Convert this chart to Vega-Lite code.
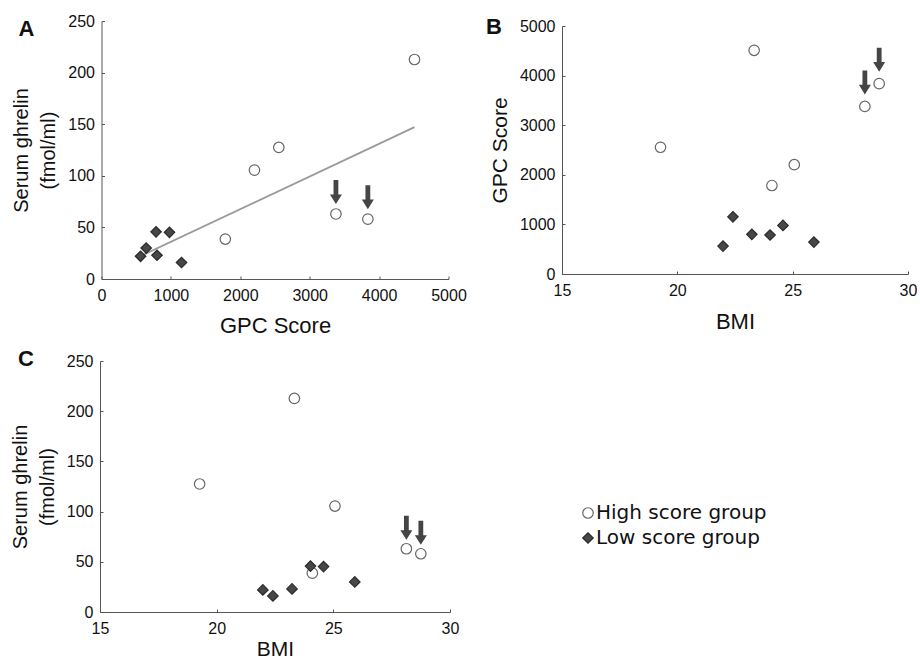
{
  "$schema": "https://vega.github.io/schema/vega-lite/v6.json",
  "autosize": {"type": "pad"},
  "padding": {"left": 10, "top": 13, "right": 0, "bottom": 0},
  "background": "white",
  "datasets": {
    "subjects": [
      {"group": "High score group", "gpc": 1784, "ghrelin": 38.7, "bmi": 24.1, "arrow": false},
      {"group": "High score group", "gpc": 2204, "ghrelin": 105.5, "bmi": 25.07, "arrow": false},
      {"group": "High score group", "gpc": 2555, "ghrelin": 127.5, "bmi": 19.27, "arrow": false},
      {"group": "High score group", "gpc": 3378, "ghrelin": 63, "bmi": 28.13, "arrow": true},
      {"group": "High score group", "gpc": 3838, "ghrelin": 58, "bmi": 28.75, "arrow": true},
      {"group": "High score group", "gpc": 4510, "ghrelin": 212.7, "bmi": 23.33, "arrow": false},
      {"group": "Low score group", "gpc": 563, "ghrelin": 22, "bmi": 21.98, "arrow": false},
      {"group": "Low score group", "gpc": 1153, "ghrelin": 16, "bmi": 22.41, "arrow": false},
      {"group": "Low score group", "gpc": 800, "ghrelin": 23, "bmi": 23.23, "arrow": false},
      {"group": "Low score group", "gpc": 786, "ghrelin": 45.7, "bmi": 24.02, "arrow": false},
      {"group": "Low score group", "gpc": 979, "ghrelin": 45.2, "bmi": 24.58, "arrow": false},
      {"group": "Low score group", "gpc": 644, "ghrelin": 30, "bmi": 25.92, "arrow": false}
    ]
  },
  "data": {"name": "subjects"},
  "columns": 2,
  "bounds": "flush",
  "center": true,
  "spacing": {"row": 82, "column": 112},
  "resolve": {
    "scale": {"shape": "shared", "fill": "shared", "stroke": "shared"},
    "legend": {"shape": "shared", "fill": "shared", "stroke": "shared"}
  },
  "config": {
    "font": "Liberation Sans",
    "view": {"stroke": null},
    "axis": {
      "grid": false,
      "domainColor": "#555",
      "domainWidth": 1,
      "tickColor": "#555",
      "tickSize": -3,
      "labelFont": "Liberation Sans",
      "labelFontSize": 16,
      "labelColor": "#111",
      "labelFlush": false,
      "labelOverlap": false,
      "format": "d",
      "titleFont": "Liberation Sans",
      "titleFontWeight": "normal",
      "titleColor": "#111"
    },
    "axisX": {"labelPadding": 11, "titleFontSize": 22, "titlePadding": 12},
    "axisY": {"labelPadding": 10, "titleFontSize": 20, "titleLineHeight": 27, "titlePadding": 9},
    "legend": {
      "orient": "none",
      "legendX": 478,
      "legendY": 482,
      "title": null,
      "labelFont": "DejaVu Sans",
      "labelFontSize": 20,
      "labelColor": "#111",
      "labelLimit": 0,
      "labelOffset": -2,
      "symbolSize": 110,
      "symbolStrokeWidth": 1.2,
      "rowPadding": 5
    }
  },
  "concat": [
    {
      "width": 347,
      "height": 258,
      "title": {"text": "A", "anchor": "start", "frame": "group", "dx": -83, "dy": 45, "offset": 0, "baseline": "alphabetic", "fontSize": 22, "fontWeight": "bold", "color": "#111"},
      "layer": [
        {
          "transform": [{"regression": "ghrelin", "on": "gpc"}],
          "mark": {"type": "line", "color": "#9a9a9a", "strokeWidth": 1.8},
          "encoding": {
            "x": {"field": "gpc", "type": "quantitative", "scale": {"domain": [0, 5000], "nice": false}, "axis": {"values": [0, 1000, 2000, 3000, 4000, 5000], "title": "GPC Score"}},
            "y": {"field": "ghrelin", "type": "quantitative", "scale": {"domain": [0, 250], "nice": false}, "axis": {"values": [0, 50, 100, 150, 200, 250], "title": ["Serum ghrelin", "(fmol/ml)"]}}
          }
        },
        {
          "mark": {"type": "point", "filled": true, "size": 110, "strokeWidth": 1.2, "opacity": 1},
          "encoding": {
            "x": {"field": "gpc", "type": "quantitative"},
            "y": {"field": "ghrelin", "type": "quantitative"},
            "shape": {"field": "group", "type": "nominal", "title": null, "scale": {"domain": ["High score group", "Low score group"], "range": ["circle", "diamond"]}},
            "fill": {"field": "group", "type": "nominal", "title": null, "scale": {"domain": ["High score group", "Low score group"], "range": ["#ffffff", "#474747"]}},
            "stroke": {"field": "group", "type": "nominal", "title": null, "scale": {"domain": ["High score group", "Low score group"], "range": ["#666666", "#2a2a2a"]}}
          }
        },
        {
          "transform": [{"filter": "datum.arrow"}],
          "mark": {"type": "point", "shape": "M-0.2,-1L0.2,-1L0.2,0.2L0.5,0.2L0,1L-0.5,0.2L-0.2,0.2Z", "size": 576, "filled": true, "color": "#454545", "opacity": 1, "yOffset": -22},
          "encoding": {
            "x": {"field": "gpc", "type": "quantitative"},
            "y": {"field": "ghrelin", "type": "quantitative"}
          }
        }
      ]
    },
    {
      "width": 346,
      "height": 248,
      "title": {"text": "B", "anchor": "start", "frame": "group", "dx": -76, "dy": 38, "offset": 0, "baseline": "alphabetic", "fontSize": 22, "fontWeight": "bold", "color": "#111"},
      "layer": [
        {
          "mark": {"type": "point", "filled": true, "size": 110, "strokeWidth": 1.2, "opacity": 1},
          "encoding": {
            "x": {"field": "bmi", "type": "quantitative", "scale": {"domain": [15, 30], "nice": false, "zero": false}, "axis": {"values": [15, 20, 25, 30], "title": "BMI", "titlePadding": 13}},
            "y": {"field": "gpc", "type": "quantitative", "scale": {"domain": [0, 5000], "nice": false}, "axis": {"values": [0, 1000, 2000, 3000, 4000, 5000], "title": "GPC Score", "titleFontSize": 21}},
            "shape": {"field": "group", "type": "nominal", "title": null, "scale": {"domain": ["High score group", "Low score group"], "range": ["circle", "diamond"]}},
            "fill": {"field": "group", "type": "nominal", "title": null, "scale": {"domain": ["High score group", "Low score group"], "range": ["#ffffff", "#474747"]}},
            "stroke": {"field": "group", "type": "nominal", "title": null, "scale": {"domain": ["High score group", "Low score group"], "range": ["#666666", "#2a2a2a"]}}
          }
        },
        {
          "transform": [{"filter": "datum.arrow"}],
          "mark": {"type": "point", "shape": "M-0.2,-1L0.2,-1L0.2,0.2L0.5,0.2L0,1L-0.5,0.2L-0.2,0.2Z", "size": 576, "filled": true, "color": "#454545", "opacity": 1, "yOffset": -24},
          "encoding": {
            "x": {"field": "bmi", "type": "quantitative"},
            "y": {"field": "gpc", "type": "quantitative"}
          }
        }
      ]
    },
    {
      "width": 350,
      "height": 251,
      "title": {"text": "C", "anchor": "start", "frame": "group", "dx": -82, "dy": 35, "offset": 0, "baseline": "alphabetic", "fontSize": 22, "fontWeight": "bold", "color": "#111"},
      "layer": [
        {
          "mark": {"type": "point", "filled": true, "size": 110, "strokeWidth": 1.2, "opacity": 1},
          "encoding": {
            "x": {"field": "bmi", "type": "quantitative", "scale": {"domain": [15, 30], "nice": false, "zero": false}, "axis": {"values": [15, 20, 25, 30], "title": "BMI", "titleFontSize": 21, "titlePadding": 2}},
            "y": {"field": "ghrelin", "type": "quantitative", "scale": {"domain": [0, 250], "nice": false}, "axis": {"values": [0, 50, 100, 150, 200, 250], "title": ["Serum ghrelin", "(fmol/ml)"]}},
            "shape": {"field": "group", "type": "nominal", "title": null, "scale": {"domain": ["High score group", "Low score group"], "range": ["circle", "diamond"]}},
            "fill": {"field": "group", "type": "nominal", "title": null, "scale": {"domain": ["High score group", "Low score group"], "range": ["#ffffff", "#474747"]}},
            "stroke": {"field": "group", "type": "nominal", "title": null, "scale": {"domain": ["High score group", "Low score group"], "range": ["#666666", "#2a2a2a"]}}
          }
        },
        {
          "transform": [{"filter": "datum.arrow"}],
          "mark": {"type": "point", "shape": "M-0.2,-1L0.2,-1L0.2,0.2L0.5,0.2L0,1L-0.5,0.2L-0.2,0.2Z", "size": 576, "filled": true, "color": "#454545", "opacity": 1, "yOffset": -21},
          "encoding": {
            "x": {"field": "bmi", "type": "quantitative"},
            "y": {"field": "ghrelin", "type": "quantitative"}
          }
        }
      ]
    }
  ]
}
